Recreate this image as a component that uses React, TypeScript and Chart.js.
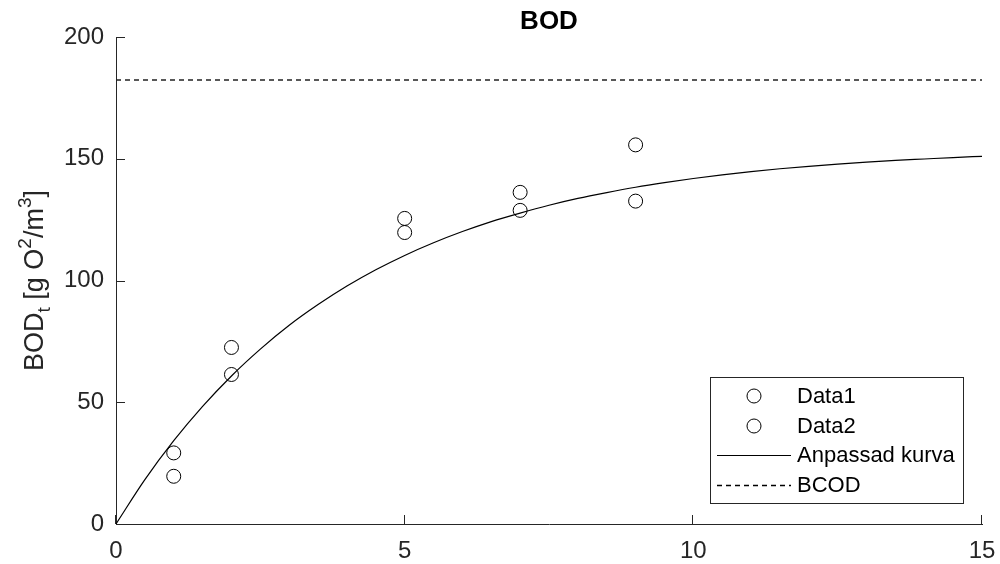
import React, { useEffect, useRef } from "react";
import { Chart, registerables } from "chart.js";

Chart.register(...registerables);

const FONT = '"Liberation Sans", Arial, sans-serif';
const AXIS_COLOR = "#262626";

// Measurement days
const days: number[] = [1, 2, 5, 7, 9];
// Measured BOD values (two replicate series)
const data1: number[] = [29.2, 72.5, 125.5, 136.2, 155.7];
const data2: number[] = [19.6, 61.4, 119.7, 128.8, 132.6];

// Fitted curve
const curveT: number[] = [
  0, 0.5, 1, 1.5, 2, 2.5, 3, 3.5, 4, 4.5, 5, 5.5, 6, 6.5, 7, 7.5, 8, 8.5, 9, 9.5,
  10, 10.5, 11, 11.5, 12, 12.5, 13, 13.5, 14, 14.5, 15,
];
const curveBOD: number[] = [
  0, 18.2, 34.2, 48.3, 60.8, 71.8, 81.6, 90.1, 97.7, 104.4, 110.3, 115.5, 120.1,
  124.2, 127.7, 130.9, 133.7, 136.1, 138.3, 140.2, 141.9, 143.4, 144.7, 145.9,
  146.9, 147.8, 148.6, 149.3, 149.9, 150.5, 151.0,
];

// BCOD level
const bcodT: number[] = [0, 15];
const bcodValue: number[] = [182.3, 182.3];

const xTicks: number[] = [0, 5, 10, 15];
const yTicks: number[] = [0, 50, 100, 150, 200];

const legendLabels: string[] = ["Data1", "Data2", "Anpassad kurva", "BCOD"];
const titleText = "BOD";

const overlayPlugin = {
  id: "overlay",
  afterDraw(chart: any) {
    const ctx: CanvasRenderingContext2D = chart.ctx;
    const xs = chart.scales.x;
    const ys = chart.scales.y;
    const ca = chart.chartArea;
    ctx.save();

    // inward tick marks
    ctx.strokeStyle = AXIS_COLOR;
    ctx.lineWidth = 1;
    ctx.beginPath();
    yTicks.forEach((v) => {
      const y = Math.round(ys.getPixelForValue(v)) + 0.5;
      ctx.moveTo(ca.left, y);
      ctx.lineTo(ca.left + 9, y);
    });
    xTicks.forEach((v) => {
      const x = Math.round(xs.getPixelForValue(v)) - 0.5;
      ctx.moveTo(x, ca.bottom);
      ctx.lineTo(x, ca.bottom - 9);
    });
    ctx.stroke();

    // title
    ctx.fillStyle = "#000";
    ctx.font = `bold 26px ${FONT}`;
    ctx.textAlign = "center";
    ctx.textBaseline = "alphabetic";
    ctx.fillText(titleText, (ca.left + ca.right) / 2, 29);

    // y label with sub/superscripts
    const mainF = `27px ${FONT}`;
    const smallF = `19px ${FONT}`;
    const parts: { t: string; f: string; dy: number }[] = [
      { t: "BOD", f: mainF, dy: 0 },
      { t: "t", f: smallF, dy: 7 },
      { t: " [g O", f: mainF, dy: 0 },
      { t: "2", f: smallF, dy: -12 },
      { t: "/m", f: mainF, dy: 0 },
      { t: "3", f: smallF, dy: -12 },
      { t: "]", f: mainF, dy: 0 },
    ];
    let total = 0;
    parts.forEach((p) => {
      ctx.font = p.f;
      total += ctx.measureText(p.t).width;
    });
    ctx.save();
    ctx.translate(43, (ca.top + ca.bottom) / 2);
    ctx.rotate(-Math.PI / 2);
    ctx.fillStyle = AXIS_COLOR;
    ctx.textAlign = "left";
    let cx = -total / 2;
    parts.forEach((p) => {
      ctx.font = p.f;
      ctx.fillText(p.t, cx, p.dy);
      cx += ctx.measureText(p.t).width;
    });
    ctx.restore();

    // legend
    const bx = 710, by = 377, bw = 253, bh = 126;
    ctx.fillStyle = "#fff";
    ctx.fillRect(bx, by, bw, bh);
    ctx.strokeStyle = AXIS_COLOR;
    ctx.lineWidth = 1;
    ctx.strokeRect(bx + 0.5, by + 0.5, bw, bh);
    const rowY = [396, 426, 455, 485];
    ctx.font = `22px ${FONT}`;
    ctx.textAlign = "left";
    ctx.textBaseline = "middle";
    legendLabels.forEach((lab, i) => {
      const y = rowY[i];
      ctx.strokeStyle = "#000";
      if (i < 2) {
        ctx.lineWidth = 1;
        ctx.setLineDash([]);
        ctx.beginPath();
        ctx.arc(754, y, 7, 0, Math.PI * 2);
        ctx.stroke();
      } else {
        ctx.lineWidth = i === 2 ? 1.2 : 1.5;
        ctx.setLineDash(i === 3 ? [5, 4] : []);
        ctx.beginPath();
        ctx.moveTo(717, y + 0.5);
        ctx.lineTo(791, y + 0.5);
        ctx.stroke();
        ctx.setLineDash([]);
      }
      ctx.fillStyle = "#000";
      ctx.fillText(lab, 797, y + 1);
    });

    ctx.restore();
  },
};

export default function App() {
  const ref = useRef<HTMLCanvasElement | null>(null);

  useEffect(() => {
    if (!ref.current) return;
    const chart = new Chart(ref.current, {
      type: "scatter",
      data: {
        datasets: [
          {
            label: legendLabels[0],
            data: days.map((d, i) => ({ x: d, y: data1[i] })),
            showLine: false,
            pointRadius: 7,
            pointBorderWidth: 1,
            borderColor: "#000",
            backgroundColor: "rgba(0,0,0,0)",
          },
          {
            label: legendLabels[1],
            data: days.map((d, i) => ({ x: d, y: data2[i] })),
            showLine: false,
            pointRadius: 7,
            pointBorderWidth: 1,
            borderColor: "#000",
            backgroundColor: "rgba(0,0,0,0)",
          },
          {
            label: legendLabels[2],
            data: curveT.map((t, i) => ({ x: t, y: curveBOD[i] })),
            showLine: true,
            pointRadius: 0,
            borderWidth: 1.2,
            borderColor: "#000",
            cubicInterpolationMode: "monotone",
          },
          {
            label: legendLabels[3],
            data: bcodT.map((t, i) => ({ x: t, y: bcodValue[i] })),
            showLine: true,
            pointRadius: 0,
            borderWidth: 1.5,
            borderColor: "#222",
            borderDash: [5, 4],
          },
        ],
      },
      options: {
        animation: false,
        responsive: false,
        maintainAspectRatio: false,
        layout: { padding: { left: 0, right: 18, top: 37, bottom: 0 } },
        plugins: {
          legend: { display: false },
          title: { display: false },
          tooltip: { enabled: false },
        },
        scales: {
          x: {
            type: "linear",
            min: 0,
            max: 15,
            afterFit: (s: any) => {
              s.height = 40;
              s.paddingLeft = 0;
              s.paddingRight = 0;
            },
            afterBuildTicks: (s: any) => {
              s.ticks = xTicks.map((v) => ({ value: v }));
            },
            grid: { display: false, drawTicks: false },
            border: { display: true, color: AXIS_COLOR, width: 1 },
            ticks: {
              color: AXIS_COLOR,
              font: { size: 24, family: FONT },
              padding: 13,
              maxRotation: 0,
            },
          },
          y: {
            type: "linear",
            min: 0,
            max: 200,
            afterFit: (s: any) => {
              s.width = 116;
              s.paddingTop = 0;
              s.paddingBottom = 0;
            },
            afterBuildTicks: (s: any) => {
              s.ticks = yTicks.map((v) => ({ value: v }));
            },
            grid: { display: false, drawTicks: false },
            border: { display: true, color: AXIS_COLOR, width: 1 },
            ticks: {
              color: AXIS_COLOR,
              font: { size: 24, family: FONT },
              padding: 12,
            },
          },
        },
      },
      plugins: [overlayPlugin],
    } as any);
    return () => chart.destroy();
  }, []);

  return (
    <div style={{ position: "absolute", left: 0, top: 0, width: 1000, height: 564, background: "#fff" }}>
      <canvas ref={ref} width={1000} height={564} style={{ width: 1000, height: 564 }} />
    </div>
  );
}
